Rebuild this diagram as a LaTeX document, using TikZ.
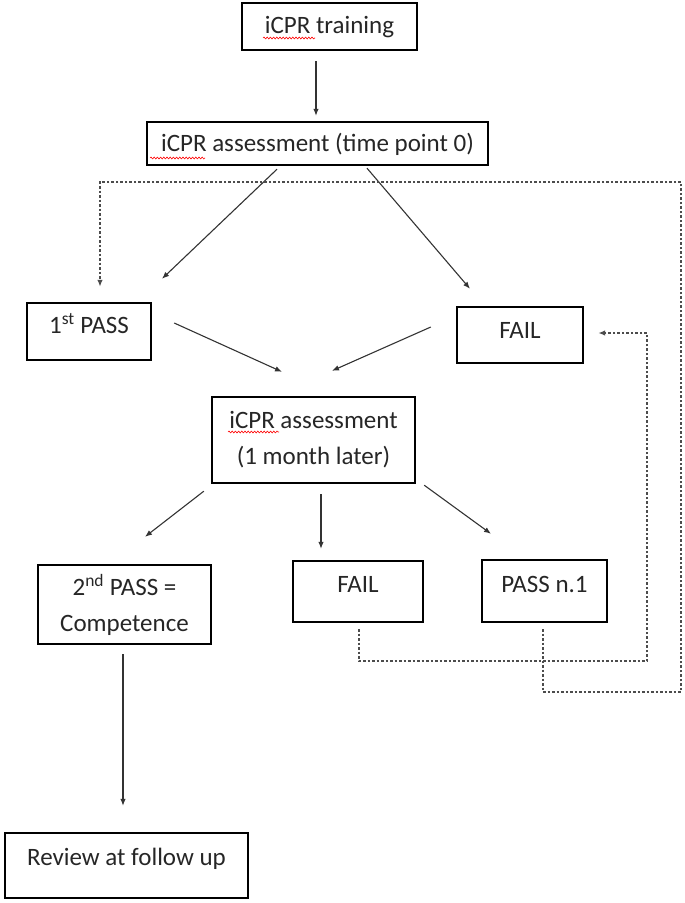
\documentclass[tikz,border=0pt]{standalone}
\usepackage{fontspec}
\setmainfont{Carlito}
\usetikzlibrary{arrows.meta,decorations.pathmorphing}

\begin{document}
\begin{tikzpicture}[x=1pt,y=-1pt,
  >={Latex[length=7pt,width=5.5pt]},
  flowbox/.style={draw,line width=2.4pt,inner sep=0pt,font=\fontsize{25}{36}\selectfont,text=black!85},
  textup/.style={text height=17pt,text depth=#1},
  arr/.style={->,line width=1.1pt,draw=black!80},
  dotline/.style={->,line width=1.6pt,draw=black!70,dash pattern=on 2.5pt off 2pt},
  squig/.style={red,line width=0.6pt,decorate,decoration={snake,amplitude=0.9pt,segment length=3.2pt}}]
  \useasboundingbox (0,0) rectangle (685,903);

  % Boxes
  \node[flowbox,textup=3.6pt,minimum width=175,minimum height=47] (train) at (329.5,26.5) {iCPR training};
  \node[flowbox,textup=2pt,minimum width=341,minimum height=43] (assess0) at (317.5,143.5) {iCPR assessment (time point 0)};
  \node[flowbox,textup=13.6pt,minimum width=124,minimum height=57] (pass1) at (89,331.5) {1\textsuperscript{st} PASS};
  \node[flowbox,textup=10.6pt,minimum width=126,minimum height=56] (failA) at (520,335) {FAIL};
  \node[flowbox,align=center,minimum width=203,minimum height=86] (assess1) at (313.5,440) {iCPR assessment\\(1 month later)};
  \node[flowbox,align=center,minimum width=173,minimum height=79] (pass2) at (124.5,604.5) {2\textsuperscript{nd} PASS =\\Competence};
  \node[flowbox,textup=15.6pt,minimum width=130,minimum height=61] (failB) at (358,591.5) {FAIL};
  \node[flowbox,textup=14.6pt,minimum width=125,minimum height=62] (passn) at (544.5,591) {PASS n.1};
  \node[flowbox,textup=17.6pt,minimum width=243,minimum height=65] (review) at (126.5,865.5) {Review at follow up};

  % Spell-check marks
  \draw[squig] (263,38) -- (315,38);
  \draw[squig] (150,158) -- (205,158);
  \draw[squig] (228,432) -- (279,432);

  % Arrows
  \draw[arr] ([xshift=-13.5pt,yshift=-10pt]train.south) -- ([xshift=-1.5pt,yshift=5pt]assess0.north);
  \draw[arr] ([xshift=-40.5pt,yshift=-3pt]assess0.south) -- ([xshift=73pt,yshift=23pt]pass1.north);
  \draw[arr] ([xshift=49.5pt,yshift=-2pt]assess0.south) -- ([xshift=-50pt,yshift=17pt]failA.north);
  \draw[arr] ([xshift=22pt,yshift=8.5pt]pass1.east) -- ([xshift=-31.5pt,yshift=24pt]assess1.north);
  \draw[arr] ([xshift=-25pt,yshift=8pt]failA.west) -- ([xshift=18.5pt,yshift=25pt]assess1.north);
  \draw[arr] ([xshift=-7pt,yshift=-7pt]assess1.south west) -- ([xshift=20.5pt,yshift=27pt]pass2.north);
  \draw[arr] ([xshift=7.5pt,yshift=-10pt]assess1.south) -- ([xshift=-37pt,yshift=11pt]failB.north);
  \draw[arr] ([xshift=8pt,yshift=-1pt]assess1.south east) -- ([xshift=-53.5pt,yshift=25pt]passn.north);
  \draw[arr] ([xshift=-1.5pt,yshift=-9pt]pass2.south) -- ([xshift=-3.5pt,yshift=26pt]review.north);

  % Dotted loops back
  \coordinate (turnA) at (647,661);
  \coordinate (turnB) at (681,692);
  \coordinate (turnC) at (681,182);
  \draw[dotline] ([xshift=1pt,yshift=-6pt]failB.south) |- (turnA) |- ([xshift=14pt,yshift=2pt]failA.east);
  \draw[dotline] ([xshift=-1.5pt,yshift=-6pt]passn.south) |- (turnB) -- (turnC) -| ([xshift=11pt,yshift=15pt]pass1.north);
\end{tikzpicture}
\end{document}
